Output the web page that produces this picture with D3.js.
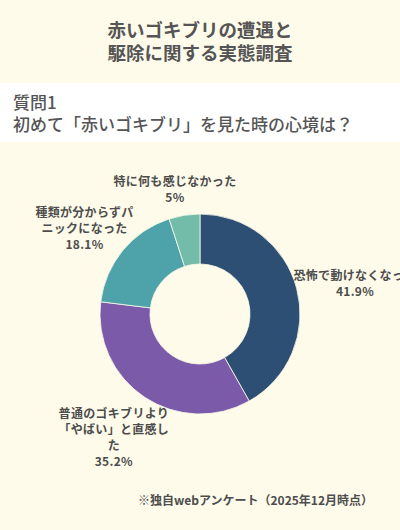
<!DOCTYPE html>
<html>
<head>
<meta charset="utf-8">
<script src="https://cdn.jsdelivr.net/npm/d3@7"></script>
<style>
  html, body { margin: 0; padding: 0; background: #fefbea; }
  svg { display: block; }
  text { font-family: "Noto Sans CJK JP", "Noto Sans", sans-serif; }
</style>
</head>
<body>
<div id="chart"></div>
<script>
// data
const titleLines = ['赤いゴキブリの遭遇と', '駆除に関する実態調査'];
const questionLines = ['質問1', '初めて「赤いゴキブリ」を見た時の心境は？'];
const categories = ['恐怖で動けなくなった', '普通のゴキブリより「やばい」と直感した', '種類が分からずパニックになった', '特に何も感じなかった'];
const labelLines = [
    ['恐怖で動けなくなった'],
    ['普通のゴキブリより', '「やばい」と直感し', 'た'],
    ['種類が分からずパ', 'ニックになった'],
    ['特に何も感じなかった']
];
const values = [41.9, 35.2, 18.1, 5];
const colors = ['#2d4f74', '#7c5aaa', '#4ea2aa', '#74bcaa'];
const note = '※独自webアンケート（2025年12月時点）';

const width = 400, height = 530;
const cx = 200, cy = 314, outer = 100, inner = 50;
const labelR = 108, kx = 0.85, ky = 1.2, lineH = 16;
const textColor = '#555555';

const svg = d3.select('#chart').append('svg')
    .attr('width', width)
    .attr('height', height);

// bands
svg.append('rect')
    .attr('x', 0).attr('y', 0)
    .attr('width', width).attr('height', height)
    .attr('fill', '#fefbea');

svg.append('rect')
    .attr('x', 0).attr('y', 83)
    .attr('width', width).attr('height', 59)
    .attr('fill', '#ffffff');

// title
const title = svg.append('text')
    .attr('text-anchor', 'middle')
    .attr('dominant-baseline', 'central')
    .attr('font-size', 18.5)
    .attr('font-weight', 'bold')
    .attr('fill', textColor);

title.selectAll('tspan')
    .data(titleLines)
    .enter().append('tspan')
    .attr('x', width / 2)
    .attr('y', (d, i) => 29 + i * 23)
    .text(d => d);

// question
const question = svg.append('text')
    .attr('dominant-baseline', 'central')
    .attr('font-size', 17)
    .attr('font-weight', 500)
    .attr('fill', textColor);

question.selectAll('tspan')
    .data(questionLines)
    .enter().append('tspan')
    .attr('x', 13)
    .attr('y', (d, i) => 100.5 + i * 22)
    .text(d => d);

// donut
const pie = d3.pie().sort(null).value(d => d);
const arcs = pie(values);
const arc = d3.arc().innerRadius(inner).outerRadius(outer);

const g = svg.append('g')
    .attr('transform', `translate(${cx},${cy})`);

g.selectAll('path')
    .data(arcs)
    .enter().append('path')
    .attr('d', arc)
    .attr('fill', (d, i) => colors[i])
    .attr('stroke', '#fefbea')
    .attr('stroke-width', 0.8);

// labels
const labels = g.selectAll('.label')
    .data(arcs)
    .enter().append('text')
    .attr('class', 'label')
    .attr('text-anchor', 'middle')
    .attr('dominant-baseline', 'central')
    .attr('font-size', 12)
    .attr('font-weight', 'bold')
    .attr('letter-spacing', 0.3)
    .attr('fill', '#4d4d4d');

labels.each(function (d, i) {
    const t = d3.select(this);
    const lines = labelLines[i].concat([values[i] + '%']);
    lines.forEach(function (l) {
        t.append('tspan').attr('x', 0).text(l);
    });
    let w = 0;
    t.selectAll('tspan').each(function () {
        w = Math.max(w, this.getComputedTextLength());
    });
    const h = lines.length * lineH;
    const mid = (d.startAngle + d.endAngle) / 2;
    const vx = Math.sin(mid), vy = -Math.cos(mid);
    const x = vx * labelR + vx * w / 2 * kx;
    const y = vy * labelR + vy * h / 2 * ky;
    t.selectAll('tspan')
        .attr('x', x)
        .attr('y', (l, j) => y - h / 2 + lineH / 2 + j * lineH);
});

// note
svg.append('text')
    .attr('x', 373)
    .attr('y', 499)
    .attr('text-anchor', 'end')
    .attr('dominant-baseline', 'central')
    .attr('font-size', 12)
    .attr('font-weight', 'bold')
    .attr('fill', '#4d4d4d')
    .text(note);
</script>
</body>
</html>
